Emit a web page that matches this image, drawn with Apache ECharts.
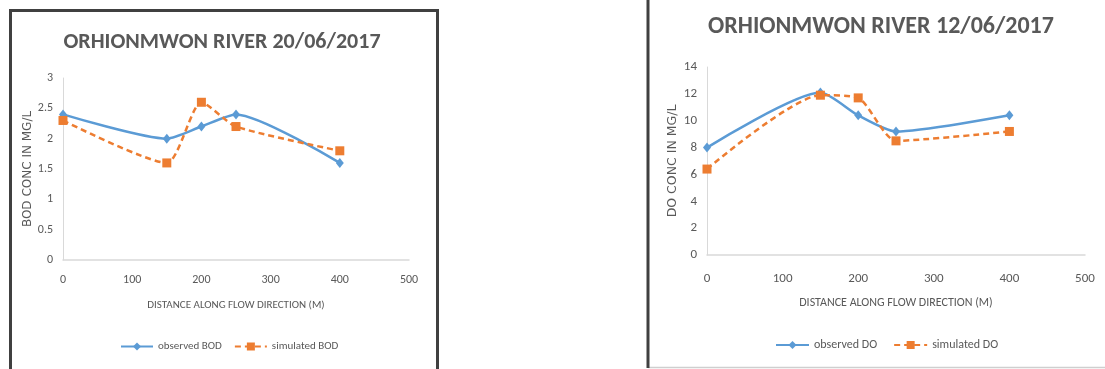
<!DOCTYPE html>
<html><head><meta charset="utf-8">
<script src="https://cdn.jsdelivr.net/npm/echarts@6/dist/echarts.min.js"></script>
<style>html,body{margin:0;padding:0;background:#fff}#c{width:1105px;height:369px}</style>
</head><body><div id="c"></div>
<script>
// ---- data ----
const distance = [0, 150, 200, 250, 400];
const observedBOD = [2.4, 2.0, 2.2, 2.4, 1.6];
const simulatedBOD = [2.3, 1.6, 2.6, 2.2, 1.8];
const observedDO = [8.0, 12.1, 10.4, 9.2, 10.4];
const simulatedDO = [6.4, 11.9, 11.7, 8.5, 9.2];
const xTicks = [0, 100, 200, 300, 400, 500];
const bodTicks = [0, 0.5, 1, 1.5, 2, 2.5, 3];
const doTicks = [0, 2, 4, 6, 8, 10, 12, 14];
const titles = ['ORHIONMWON RIVER 20/06/2017', 'ORHIONMWON RIVER 12/06/2017'];
const yNames = ['BOD CONC IN MG/L', 'DO CONC IN MG/L'];
const xName = 'DISTANCE ALONG FLOW DIRECTION (M)';
const seriesNames = ['observed BOD', 'simulated BOD', 'observed DO', 'simulated DO'];

// ---- style ----
const CAL = 'Carlito, "Liberation Sans", sans-serif';
const WIDE = '"DejaVu Sans", sans-serif';
const TXT = '#595959';
const BLUE = '#5B9BD5';
const ORANGE = '#ED7D31';
const AXIS = '#d9d9d9';
const SMOOTH = 0.22;

const pairs = (ys) => distance.map((d, i) => [d, ys[i]]);

function xAxis(idx, fs, nfs, margin, gap) {
  return {
    type: 'value', gridIndex: idx,
    min: xTicks[0], max: xTicks[xTicks.length - 1], interval: xTicks[1] - xTicks[0],
    name: xName, nameLocation: 'middle', nameGap: gap,
    nameTextStyle: { color: TXT, fontFamily: CAL, fontSize: nfs },
    axisLine: { show: true, lineStyle: { color: AXIS, width: 1.5 } },
    axisTick: { show: false },
    splitLine: { show: false },
    axisLabel: { color: TXT, fontFamily: CAL, fontSize: fs, margin: margin }
  };
}
function yAxis(idx, ticks, fs, name, nfs, gap) {
  return {
    type: 'value', gridIndex: idx,
    min: ticks[0], max: ticks[ticks.length - 1], interval: ticks[1] - ticks[0],
    name: name, nameLocation: 'middle', nameGap: gap,
    nameTextStyle: { color: TXT, fontFamily: WIDE, fontSize: nfs },
    axisLine: { show: true, lineStyle: { color: AXIS, width: 1 } },
    axisTick: { show: false },
    splitLine: { show: false },
    axisLabel: { color: TXT, fontFamily: CAL, fontSize: fs, margin: 10 }
  };
}
function obs(name, idx, ys) {
  return {
    name: name, type: 'line', xAxisIndex: idx, yAxisIndex: idx,
    data: pairs(ys), smooth: SMOOTH,
    symbol: 'diamond', symbolSize: [8, 10],
    itemStyle: { color: BLUE },
    lineStyle: { color: BLUE, width: 2.5 }
  };
}
function sim(name, idx, ys) {
  return {
    name: name, type: 'line', xAxisIndex: idx, yAxisIndex: idx,
    data: pairs(ys), smooth: SMOOTH,
    symbol: 'rect', symbolSize: 9,
    itemStyle: { color: ORANGE },
    lineStyle: { color: ORANGE, width: 2.5, type: [6, 4] }
  };
}

const chart = echarts.init(document.getElementById('c'), null, { renderer: 'canvas' });
chart.setOption({
  animation: false,
  backgroundColor: '#fff',
  title: [
    { text: titles[0], left: 222, top: 42, textAlign: 'center', textVerticalAlign: 'middle', padding: 0,
      textStyle: { color: TXT, fontFamily: CAL, fontWeight: 'bold', fontSize: 22 } },
    { text: titles[1], left: 881, top: 27, textAlign: 'center', textVerticalAlign: 'middle', padding: 0,
      textStyle: { color: TXT, fontFamily: CAL, fontWeight: 'bold', fontSize: 24 } }
  ],
  legend: [
    { data: [seriesNames[0], seriesNames[1]], left: 120, top: 341, itemWidth: 32, itemHeight: 10, itemGap: 12,
      padding: 0, textStyle: { color: TXT, fontFamily: CAL, fontSize: 11 } },
    { data: [seriesNames[2], seriesNames[3]], left: 775, top: 339, itemWidth: 33, itemHeight: 10, itemGap: 16,
      padding: 0, textStyle: { color: TXT, fontFamily: CAL, fontSize: 12 } }
  ],
  grid: [
    { left: 63, right: 1105 - 409, top: 78, bottom: 369 - 260 },
    { left: 707, right: 1105 - 1085, top: 67, bottom: 369 - 255 }
  ],
  xAxis: [xAxis(0, 12, 11, 14, 40), xAxis(1, 13, 12, 17, 42)],
  yAxis: [yAxis(0, bodTicks, 12, yNames[0], 12, 26.5), yAxis(1, doTicks, 13, yNames[1], 12.5, 27.5)],
  series: [
    obs(seriesNames[0], 0, observedBOD),
    sim(seriesNames[1], 0, simulatedBOD),
    obs(seriesNames[2], 1, observedDO),
    sim(seriesNames[3], 1, simulatedDO)
  ],
  graphic: [
    { type: 'polyline', silent: true, z: 100,
      shape: { points: [[10.5, 400], [10.5, 10.5], [437.5, 10.5], [437.5, 400]] },
      style: { stroke: '#404040', lineWidth: 3, fill: null } },
    { type: 'line', silent: true, z: 100,
      shape: { x1: 648, y1: -5, x2: 648, y2: 368 },
      style: { stroke: '#404040', lineWidth: 3 } },
    { type: 'line', silent: true, z: 99,
      shape: { x1: 648, y1: 367.5, x2: 1110, y2: 367.5 },
      style: { stroke: '#cfcfcf', lineWidth: 1.5 } }
  ]
});
</script>
</body></html>
